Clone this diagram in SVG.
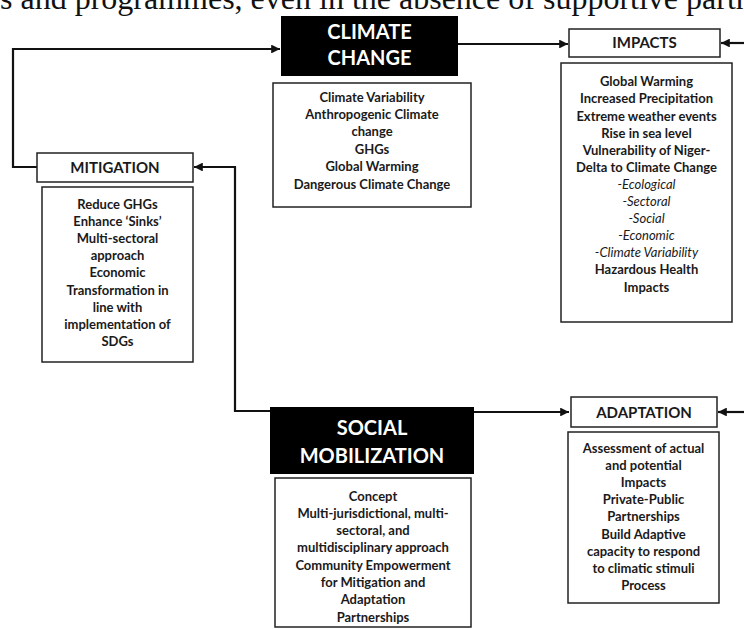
<svg xmlns="http://www.w3.org/2000/svg" width="744" height="629" viewBox="0 0 744 629">
<defs>
<style>
.box{fill:#fff;stroke:#222;stroke-width:1.5}
.blk{fill:#000}
.hd{font-family:Lato,"Liberation Sans",sans-serif;font-weight:700;font-size:15px;fill:#1a1a1a;text-anchor:middle}
.wt{font-family:Lato,"Liberation Sans",sans-serif;font-weight:700;font-size:20px;fill:#fff;text-anchor:middle}
.tx{font-family:Lato,"Liberation Sans",sans-serif;font-weight:700;font-size:13px;fill:#1a1a1a;text-anchor:middle}
.it{font-weight:400;font-style:italic}
.ln{fill:none;stroke:#111;stroke-width:2.2}
</style>
<marker id="ah" viewBox="0 0 10 10" refX="10" refY="5" markerWidth="4" markerHeight="4" orient="auto" markerUnits="strokeWidth">
<path d="M0,0 L10,5 L0,10 z" fill="#111"/>
</marker>
</defs>
<rect width="744" height="629" fill="#fff"/>
<text x="0" y="9" font-family="Liberation Serif,serif" font-size="32" fill="#111">s and programmes, even in the absence of supportive partn</text>

<g id="connectors">
<path class="ln" d="M40,167 H13 V49 H280" marker-end="url(#ah)"/>
<path class="ln" d="M458,44 H568" marker-end="url(#ah)"/>
<path class="ln" d="M744,43 H721" marker-end="url(#ah)"/>
<path class="ln" d="M270,411 H235 V167 H194" marker-end="url(#ah)"/>
<path class="ln" d="M474,412 H569" marker-end="url(#ah)"/>
<path class="ln" d="M744,412 H718" marker-end="url(#ah)"/>
</g>

<g id="climate-change">
<rect class="blk" x="281" y="16" width="177" height="60"/>
<text class="wt" x="369.5" y="39">CLIMATE</text>
<text class="wt" x="369.5" y="65">CHANGE</text>
</g>
<g id="climate-details">
<rect class="box" x="273" y="83" width="198" height="124"/>
<text class="tx" y="101.5"><tspan x="372">Climate Variability</tspan><tspan x="372" dy="17.4">Anthropogenic Climate</tspan><tspan x="372" dy="17.4">change</tspan><tspan x="372" dy="17.4">GHGs</tspan><tspan x="372" dy="17.4">Global Warming</tspan><tspan x="372" dy="17.4">Dangerous Climate Change</tspan></text>
</g>

<g id="impacts">
<rect class="box" x="569" y="29" width="151" height="28"/>
<text class="hd" x="644.5" y="48">IMPACTS</text>
</g>
<g id="impacts-details">
<rect class="box" x="561" y="63" width="171" height="259"/>
<text class="tx" y="86.3"><tspan x="646.5">Global Warming</tspan><tspan x="646.5" dy="17.1">Increased Precipitation</tspan><tspan x="646.5" dy="17.1">Extreme weather events</tspan><tspan x="646.5" dy="17.1">Rise in sea level</tspan><tspan x="646.5" dy="17.1">Vulnerability of Niger-</tspan><tspan x="646.5" dy="17.1">Delta to Climate Change</tspan><tspan class="it" x="646.5" dy="17.1">-Ecological</tspan><tspan class="it" x="646.5" dy="17.1">-Sectoral</tspan><tspan class="it" x="646.5" dy="17.1">-Social</tspan><tspan class="it" x="646.5" dy="17.1">-Economic</tspan><tspan class="it" x="646.5" dy="17.1">-Climate Variability</tspan><tspan x="646.5" dy="17.1">Hazardous Health</tspan><tspan x="646.5" dy="17.1">Impacts</tspan></text>
</g>

<g id="mitigation">
<rect class="box" x="37" y="153" width="156" height="29"/>
<text class="hd" x="115" y="172.5">MITIGATION</text>
</g>
<g id="mitigation-details">
<rect class="box" x="42" y="187" width="151" height="175"/>
<text class="tx" y="208.5"><tspan x="117.5">Reduce GHGs</tspan><tspan x="117.5" dy="17.2">Enhance ‘Sinks’</tspan><tspan x="117.5" dy="17.2">Multi-sectoral</tspan><tspan x="117.5" dy="17.2">approach</tspan><tspan x="117.5" dy="17.2">Economic</tspan><tspan x="117.5" dy="17.2">Transformation in</tspan><tspan x="117.5" dy="17.2">line with</tspan><tspan x="117.5" dy="17.2">implementation of</tspan><tspan x="117.5" dy="17.2">SDGs</tspan></text>
</g>

<g id="social-mobilization">
<rect class="blk" x="270" y="407" width="204" height="67"/>
<text class="wt" x="372" y="435">SOCIAL</text>
<text class="wt" x="372" y="463">MOBILIZATION</text>
</g>
<g id="social-details">
<rect class="box" x="275" y="478" width="196" height="149"/>
<text class="tx" y="500.5"><tspan x="373">Concept</tspan><tspan x="373" dy="17.3">Multi-jurisdictional, multi-</tspan><tspan x="373" dy="17.3">sectoral, and</tspan><tspan x="373" dy="17.3">multidisciplinary approach</tspan><tspan x="373" dy="17.3">Community Empowerment</tspan><tspan x="373" dy="17.3">for Mitigation and</tspan><tspan x="373" dy="17.3">Adaptation</tspan><tspan x="373" dy="17.3">Partnerships</tspan></text>
</g>

<g id="adaptation">
<rect class="box" x="571" y="397" width="146" height="30"/>
<text class="hd" x="644" y="417.5">ADAPTATION</text>
</g>
<g id="adaptation-details">
<rect class="box" x="568" y="432" width="151" height="171"/>
<text class="tx" y="452.5"><tspan x="643.5">Assessment of actual</tspan><tspan x="643.5" dy="17.2">and potential</tspan><tspan x="643.5" dy="17.2">Impacts</tspan><tspan x="643.5" dy="17.2">Private-Public</tspan><tspan x="643.5" dy="17.2">Partnerships</tspan><tspan x="643.5" dy="17.2">Build Adaptive</tspan><tspan x="643.5" dy="17.2">capacity to respond</tspan><tspan x="643.5" dy="17.2">to climatic stimuli</tspan><tspan x="643.5" dy="17.2">Process</tspan></text>
</g>
</svg>
